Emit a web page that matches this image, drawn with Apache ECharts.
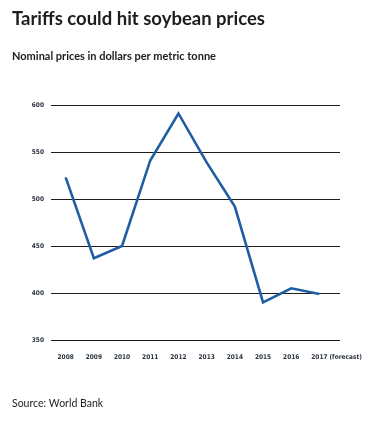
<!DOCTYPE html>
<html>
<head>
<meta charset="utf-8">
<script src="https://cdn.jsdelivr.net/npm/echarts@6/dist/echarts.min.js"></script>
<style>
html,body{margin:0;padding:0;background:#fff;}
#c{width:366px;height:426px;}
</style>
</head>
<body>
<div id="c"></div>
<script>
var years = [2008, 2009, 2010, 2011, 2012, 2013, 2014, 2015, 2016, 2017];
var prices = [523, 437, 450, 541, 591, 539, 492, 390, 405, 399];
var yTicks = [350, 400, 450, 500, 550, 600];
var forecastYears = [2017];

var HEAD = 'Lato, "Open Sans", sans-serif';
var TICK = '"DejaVu Sans Condensed", sans-serif';
var tickLabel = {
  fontFamily: TICK,
  fontWeight: 'bold',
  fontSize: 6.5,
  color: '#2b3440'
};
var xMin = 2007.48, xMax = 2017.73;

var chart = echarts.init(document.getElementById('c'), null, {renderer: 'canvas'});
chart.setOption({
  animation: false,
  backgroundColor: '#ffffff',
  title: [
    {text: 'Tariffs could hit soybean prices', left: 12, top: 10, padding: 0,
     textStyle: {fontFamily: HEAD, fontWeight: 'bold', fontSize: 18.5, color: '#1d1d1b'}},
    {text: 'Nominal prices in dollars per metric tonne', left: 12, top: 51, padding: 0,
     textStyle: {fontFamily: HEAD, fontWeight: 'bold', fontSize: 11, color: '#1d1d1b'}},
    {text: 'Source: World Bank', left: 12, top: 398, padding: 0,
     textStyle: {fontFamily: HEAD, fontWeight: 'normal', fontSize: 10.5, color: '#1d1d1b'}}
  ],
  grid: {left: 51, right: 26, top: 105, bottom: 86, containLabel: false},
  xAxis: [{
    type: 'value',
    position: 'bottom',
    min: xMin,
    max: xMax,
    axisLine: {show: false},
    axisTick: {show: false},
    splitLine: {show: false},
    axisLabel: Object.assign({
      customValues: years,
      margin: 14,
      formatter: function (v) { return String(v); }
    }, tickLabel)
  }, {
    type: 'value',
    position: 'bottom',
    min: xMin,
    max: xMax,
    axisLine: {show: false},
    axisTick: {show: false},
    splitLine: {show: false},
    axisLabel: Object.assign({
      customValues: forecastYears,
      margin: 14,
      align: 'left',
      padding: [0, 0, 0, 10],
      formatter: function () { return '(forecast)'; }
    }, tickLabel)
  }],
  yAxis: {
    type: 'value',
    min: 350,
    max: 600,
    interval: 50,
    axisLine: {show: false},
    axisTick: {show: false},
    splitLine: {show: true, lineStyle: {color: '#1d1d1b', width: 1.2}},
    axisLabel: Object.assign({
      margin: 7,
      padding: [0, 0, 6, 0],
      formatter: function (v) { return yTicks.indexOf(v) >= 0 ? String(v) : ''; }
    }, tickLabel)
  },
  series: [{
    type: 'line',
    xAxisIndex: 0,
    data: years.map(function (y, i) { return [y, prices[i]]; }),
    symbol: 'none',
    lineStyle: {color: '#1f5ea4', width: 2.6, join: 'miter'},
    silent: true
  }]
});
</script>
</body>
</html>
